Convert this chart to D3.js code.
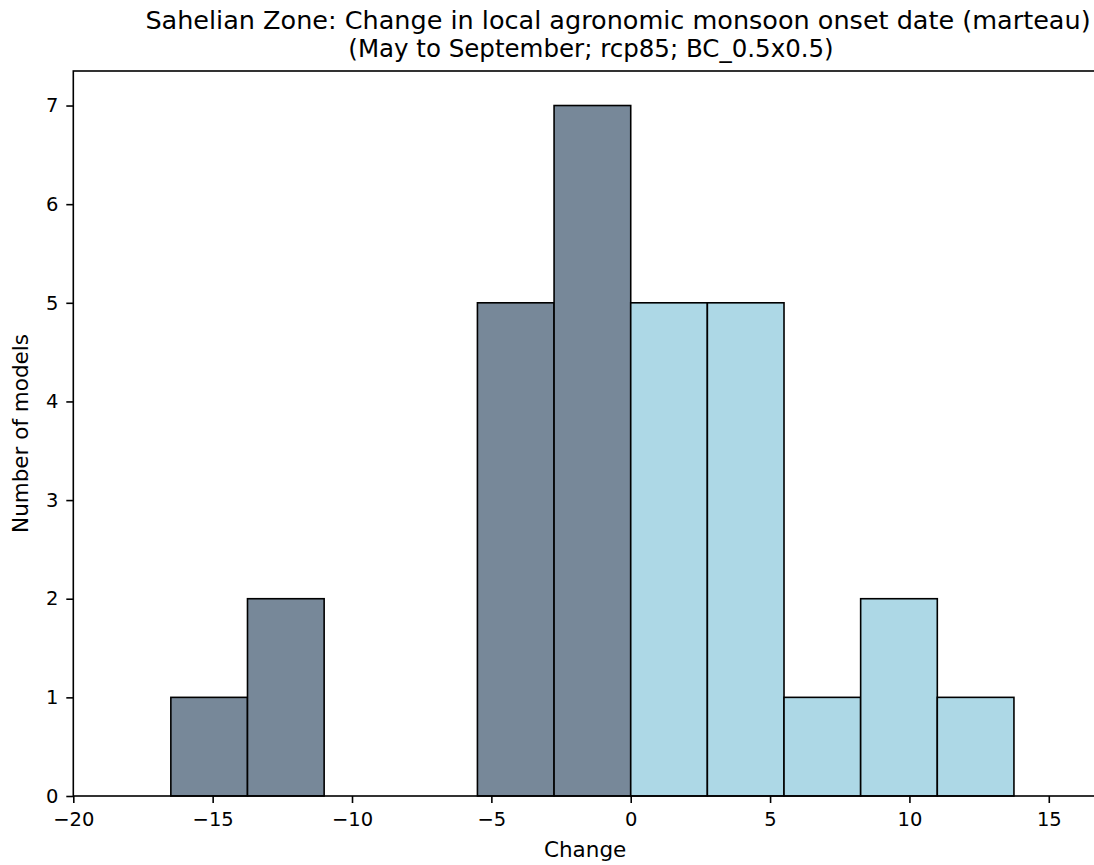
<!DOCTYPE html>
<html><head><meta charset="utf-8">
<script src="https://cdn.jsdelivr.net/npm/d3@7"></script>
<style>body{margin:0;background:#fff;} text{font-family:"DejaVu Sans",sans-serif;}</style>
</head><body><svg id="c" width="1094" height="865"></svg>
<script>
const binStarts = [-16.5, -13.75, -11, -8.25, -5.5, -2.75, 0, 2.75, 5.5, 8.25, 11];
const binWidth = 2.75;
const counts = [1, 2, 0, 0, 5, 7, 5, 5, 1, 2, 1];
const xTicks = [-20, -15, -10, -5, 0, 5, 10, 15];
const yTicks = [0, 1, 2, 3, 4, 5, 6, 7];
const titleLines = ["Sahelian Zone: Change in local agronomic monsoon onset date (marteau)", "(May to September; rcp85; BC_0.5x0.5)"];

const svg = d3.select("#c");
const L = 73.3, R = 1097, T = 71, B = 796;
const x = d3.scaleLinear().domain([-20, 16.73]).range([L, R]);
const y = d3.scaleLinear().domain([0, 7.35]).range([B, T]);

const bars = binStarts.map((s, i) => ({s, c: counts[i]})).filter(d => d.c > 0);
svg.append("g").selectAll("rect").data(bars).join("rect")
  .attr("x", d => x(d.s)).attr("width", d => x(d.s + binWidth) - x(d.s))
  .attr("y", d => y(d.c)).attr("height", d => y(0) - y(d.c))
  .attr("fill", d => d.s < 0 ? "#778899" : "#add8e6")
  .attr("stroke", "#000").attr("stroke-width", 1.6);

const xa = svg.append("g").attr("transform", `translate(0,${B})`)
  .call(d3.axisBottom(x).tickValues(xTicks).tickSize(7).tickPadding(9).tickFormat(d => d < 0 ? "\u2212" + Math.abs(d) : d));
const ya = svg.append("g").attr("transform", `translate(${L},0)`)
  .call(d3.axisLeft(y).tickValues(yTicks).tickSize(7).tickPadding(8));
[xa, ya].forEach(a => {
  a.select(".domain").remove();
  a.selectAll("line").attr("stroke", "#000").attr("stroke-width", 1.6);
  a.selectAll("text").attr("font-size", 19.5).attr("fill", "#000").style("font-family", "DejaVu Sans");
});
// spines
svg.append("rect").attr("x", L).attr("y", T).attr("width", R - L).attr("height", B - T)
  .attr("fill", "none").attr("stroke", "#000").attr("stroke-width", 1.6);

svg.append("text").attr("x", (L + R) / 2).attr("y", 857).attr("text-anchor", "middle")
  .attr("font-size", 21.5).text("Change");
svg.append("text").attr("transform", `translate(28,${(T + B) / 2}) rotate(-90)`).attr("text-anchor", "middle")
  .attr("font-size", 21.5).text("Number of models");
const titleX = [618, 591];
titleLines.forEach((t, i) => {
  svg.append("text").attr("x", titleX[i]).attr("y", 29 + i * 27.5).attr("text-anchor", "middle")
    .attr("font-size", i === 0 ? 25.5 : 24.5).text(t);
});
</script></body></html>
